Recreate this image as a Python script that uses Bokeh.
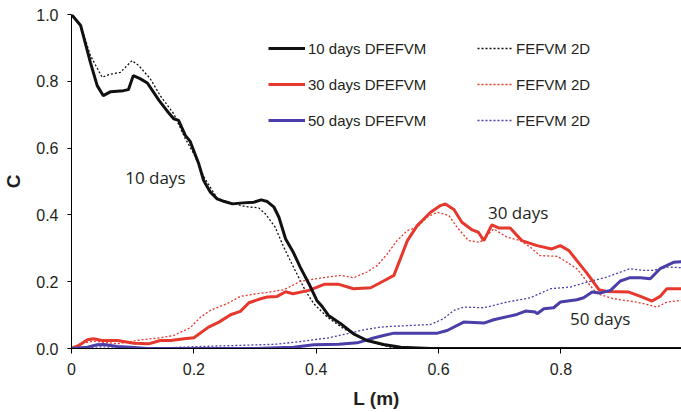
from bokeh.plotting import figure
from bokeh.models import Legend, LegendItem, FixedTicker, Label, Range1d
from bokeh.embed import file_html
from bokeh.resources import INLINE

# ---- data ----
x_10_dfefvm = [0.000, 0.015, 0.031, 0.042, 0.052, 0.064, 0.085, 0.093, 0.101, 0.112, 0.124, 0.143,
               0.156, 0.167, 0.175, 0.186, 0.194, 0.208, 0.216, 0.227, 0.238, 0.250, 0.263, 0.280,
               0.298, 0.310, 0.320, 0.331, 0.339, 0.350, 0.362, 0.374, 0.388, 0.401, 0.410, 0.420,
               0.440, 0.461, 0.483, 0.510, 0.538, 0.587, 0.700, 0.850, 0.997]
c_10_dfefvm = [1.000, 0.967, 0.856, 0.787, 0.757, 0.769, 0.772, 0.775, 0.817, 0.808, 0.795, 0.743,
               0.712, 0.688, 0.683, 0.638, 0.620, 0.553, 0.503, 0.468, 0.448, 0.440, 0.433, 0.436,
               0.438, 0.445, 0.440, 0.423, 0.393, 0.328, 0.290, 0.243, 0.194, 0.144, 0.125, 0.099,
               0.074, 0.044, 0.024, 0.012, 0.004, 0.000, 0.000, 0.000, 0.000]

x_10_fefvm = [0.000, 0.015, 0.031, 0.050, 0.061, 0.080, 0.099, 0.110, 0.129, 0.145, 0.167, 0.186,
              0.200, 0.216, 0.238, 0.263, 0.284, 0.306, 0.317, 0.333, 0.347, 0.363, 0.382, 0.396,
              0.418, 0.445, 0.472, 0.500, 0.521, 0.560, 0.997]
c_10_fefvm = [1.000, 0.967, 0.877, 0.812, 0.820, 0.827, 0.862, 0.847, 0.807, 0.757, 0.703, 0.628,
              0.583, 0.515, 0.450, 0.435, 0.425, 0.421, 0.403, 0.363, 0.303, 0.243, 0.174, 0.134,
              0.094, 0.059, 0.034, 0.014, 0.004, 0.000, 0.000]

x_30_dfefvm = [0.000, 0.012, 0.026, 0.036, 0.050, 0.075, 0.102, 0.126, 0.145, 0.162, 0.184, 0.200,
               0.224, 0.241, 0.260, 0.276, 0.290, 0.309, 0.320, 0.336, 0.350, 0.362, 0.388, 0.413,
               0.437, 0.461, 0.489, 0.510, 0.527, 0.549, 0.565, 0.587, 0.603, 0.611, 0.625, 0.638,
               0.655, 0.665, 0.674, 0.687, 0.698, 0.717, 0.736, 0.761, 0.785, 0.799, 0.813, 0.826,
               0.843, 0.862, 0.875, 0.911, 0.930, 0.949, 0.962, 0.973, 0.997]
c_30_dfefvm = [0.000, 0.009, 0.026, 0.029, 0.024, 0.024, 0.016, 0.014, 0.024, 0.024, 0.029, 0.032,
               0.064, 0.079, 0.101, 0.111, 0.137, 0.149, 0.154, 0.156, 0.170, 0.164, 0.174, 0.192,
               0.192, 0.179, 0.182, 0.202, 0.219, 0.323, 0.368, 0.408, 0.428, 0.433, 0.416, 0.378,
               0.355, 0.348, 0.323, 0.370, 0.361, 0.361, 0.323, 0.308, 0.298, 0.308, 0.293, 0.263,
               0.224, 0.176, 0.171, 0.169, 0.156, 0.142, 0.156, 0.179, 0.179]

x_30_fefvm = [0.000, 0.015, 0.036, 0.075, 0.113, 0.145, 0.167, 0.194, 0.211, 0.227, 0.254, 0.276,
              0.303, 0.320, 0.347, 0.374, 0.407, 0.440, 0.461, 0.483, 0.500, 0.516, 0.532, 0.549,
              0.565, 0.581, 0.598, 0.617, 0.630, 0.649, 0.668, 0.690, 0.712, 0.734, 0.750, 0.766,
              0.794, 0.810, 0.826, 0.843, 0.859, 0.886, 0.924, 0.957, 0.973, 0.997]
c_30_fefvm = [0.000, 0.015, 0.022, 0.014, 0.026, 0.032, 0.039, 0.062, 0.094, 0.114, 0.134, 0.156,
              0.164, 0.168, 0.176, 0.201, 0.211, 0.219, 0.212, 0.229, 0.249, 0.283, 0.323, 0.353,
              0.363, 0.393, 0.408, 0.398, 0.363, 0.323, 0.318, 0.358, 0.333, 0.323, 0.303, 0.278,
              0.276, 0.258, 0.239, 0.199, 0.164, 0.149, 0.139, 0.124, 0.139, 0.144]

x_50_dfefvm = [0.000, 0.026, 0.042, 0.053, 0.075, 0.096, 0.124, 0.300, 0.363, 0.396, 0.437, 0.467,
               0.489, 0.510, 0.527, 0.598, 0.614, 0.641, 0.674, 0.690, 0.728, 0.742, 0.758, 0.761,
               0.772, 0.788, 0.799, 0.826, 0.837, 0.851, 0.864, 0.881, 0.897, 0.913, 0.930, 0.946,
               0.962, 0.984, 0.997]
c_50_dfefvm = [0.000, 0.004, 0.011, 0.012, 0.006, 0.004, 0.000, 0.000, 0.004, 0.011, 0.013, 0.017,
               0.029, 0.039, 0.046, 0.046, 0.054, 0.079, 0.076, 0.086, 0.102, 0.112, 0.109, 0.104,
               0.119, 0.122, 0.139, 0.146, 0.152, 0.169, 0.166, 0.174, 0.202, 0.212, 0.212, 0.209,
               0.239, 0.258, 0.260]

x_50_fefvm = [0.000, 0.050, 0.100, 0.150, 0.211, 0.287, 0.336, 0.374, 0.407, 0.418, 0.450, 0.478,
              0.505, 0.521, 0.565, 0.587, 0.608, 0.625, 0.641, 0.674, 0.712, 0.750, 0.783, 0.815,
              0.843, 0.875, 0.913, 0.935, 0.951, 0.973, 0.997]
c_50_fefvm = [0.000, 0.005, 0.002, 0.002, 0.006, 0.010, 0.013, 0.021, 0.029, 0.031, 0.044, 0.056,
              0.064, 0.066, 0.070, 0.072, 0.089, 0.114, 0.124, 0.122, 0.139, 0.152, 0.179, 0.184,
              0.199, 0.214, 0.239, 0.234, 0.234, 0.244, 0.242]

x_ticks = [0.0, 0.2, 0.4, 0.6, 0.8]
x_tick_labels = ["0", "0.2", "0.4", "0.6", "0.8"]
y_ticks = [0.0, 0.2, 0.4, 0.6, 0.8, 1.0]
y_tick_labels = ["0.0", "0.2", "0.4", "0.6", "0.8", "1.0"]

BLACK = "#111111"
RED = "#e6382d"
BLUE = "#4a3ea8"
TICK_FONT = "Liberation Sans"

p = figure(width=681, height=412, output_backend="svg", toolbar_location=None,
           x_range=Range1d(0, 0.997), y_range=Range1d(0, 1.0),
           min_border_left=71, min_border_right=0, min_border_top=14, min_border_bottom=64)
p.outline_line_color = None
p.xgrid.visible = False
p.ygrid.visible = False
p.background_fill_color = "white"
p.border_fill_color = "white"

# dotted FEFVM 2D series
d10 = p.line(x_10_fefvm, c_10_fefvm, line_color=BLACK, line_width=1.3, line_dash="2 2")
d30 = p.line(x_30_fefvm, c_30_fefvm, line_color=RED, line_width=1.3, line_dash="2 2")
d50 = p.line(x_50_fefvm, c_50_fefvm, line_color=BLUE, line_width=1.3, line_dash="2 2")
# solid DFEFVM series
s30 = p.line(x_30_dfefvm, c_30_dfefvm, line_color=RED, line_width=3)
s50 = p.line(x_50_dfefvm, c_50_dfefvm, line_color=BLUE, line_width=3)
s10 = p.line(x_10_dfefvm, c_10_dfefvm, line_color=BLACK, line_width=3)

# axes
for ax in (p.xaxis[0], p.yaxis[0]):
    ax.axis_line_color = "black"
    ax.axis_line_width = 1
    ax.major_tick_line_color = "black"
    ax.minor_tick_line_color = None
    ax.major_tick_in = 0
    ax.major_label_text_font = TICK_FONT
    ax.major_label_text_font_size = "16px"
    ax.major_label_text_color = "#231f20"
    ax.axis_label_text_font = TICK_FONT
    ax.axis_label_text_font_style = "bold"
    ax.axis_label_text_font_size = "19px"
    ax.axis_label_text_color = "#231f20"

p.xaxis[0].ticker = FixedTicker(ticks=x_ticks)
p.xaxis[0].major_label_overrides = {t: l for t, l in zip(x_ticks, x_tick_labels)}
p.xaxis[0].major_tick_out = 5
p.xaxis[0].major_label_standoff = 9
p.xaxis[0].axis_label = "L (m)"
p.xaxis[0].axis_label_standoff = 10

p.yaxis[0].ticker = FixedTicker(ticks=y_ticks)
p.yaxis[0].major_label_overrides = {t: l for t, l in zip(y_ticks, y_tick_labels)}
p.yaxis[0].major_tick_out = 4
p.yaxis[0].major_label_standoff = 9
p.yaxis[0].axis_label = "C"
p.yaxis[0].axis_label_standoff = 9

# legends (two columns)
def style_legend(lg, standoff):
    lg.border_line_color = None
    lg.background_fill_alpha = 0
    lg.padding = 0
    lg.margin = 0
    lg.spacing = 16
    lg.glyph_height = 20
    lg.label_height = 20
    lg.label_standoff = standoff
    lg.label_text_font = TICK_FONT
    lg.label_text_font_size = "15px"
    lg.label_text_color = "#231f20"

leg1 = Legend(items=[LegendItem(label="10 days DFEFVM", renderers=[s10]),
                     LegendItem(label="30 days DFEFVM", renderers=[s30]),
                     LegendItem(label="50 days DFEFVM", renderers=[s50])],
              location=(197, 218))
style_legend(leg1, 3)
leg1.glyph_width = 37

leg2 = Legend(items=[LegendItem(label="FEFVM 2D", renderers=[d10]),
                     LegendItem(label="FEFVM 2D", renderers=[d30]),
                     LegendItem(label="FEFVM 2D", renderers=[d50])],
              location=(406, 218))
style_legend(leg2, 4)
leg2.glyph_width = 35

p.add_layout(leg1, "center")
p.add_layout(leg2, "center")

# curve annotations
for tx, ty, txt in [(0.137, 0.512, "10 days"), (0.730, 0.407, "30 days"), (0.864, 0.091, "50 days")]:
    p.add_layout(Label(x=tx, y=ty, text=txt, text_align="center", text_baseline="middle",
                       text_font="Open Sans", text_font_size="17px", text_color="#231f20"))

open("out.html", "w").write(file_html(p, INLINE))
